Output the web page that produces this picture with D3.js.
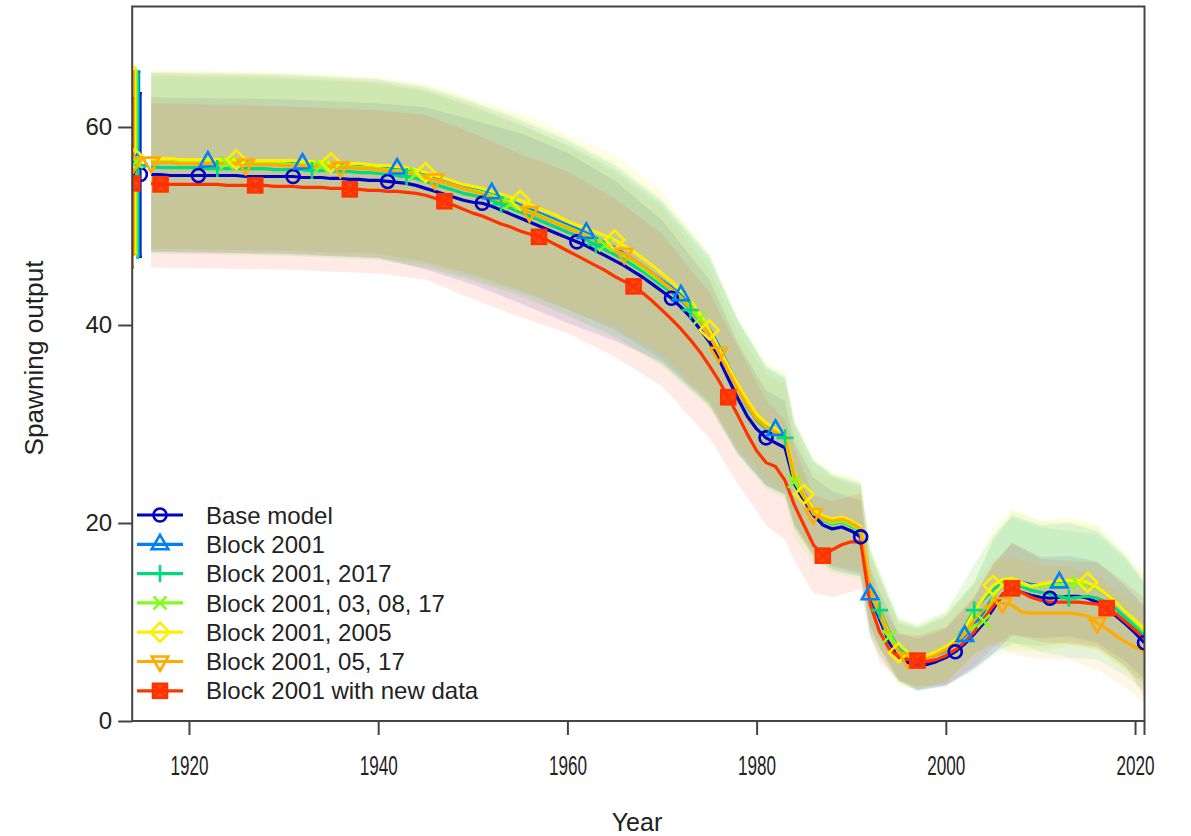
<!DOCTYPE html>
<html><head><meta charset="utf-8">
<script src="https://cdn.jsdelivr.net/npm/d3@7"></script>
<style>
body{margin:0;background:#fff}
svg{display:block}
text{font-family:"Liberation Sans",Arial,Helvetica,sans-serif;fill:#222}
</style>
</head><body>
<svg id="chart" width="1191" height="836"></svg>
<script>
// ---------------- DATA ----------------
const years = d3.range(1916, 2022); // annual time steps 1916..2021
const seriesNames = ["Base model","Block 2001","Block 2001, 2017","Block 2001, 03, 08, 17","Block 2001, 2005","Block 2001, 05, 17","Block 2001 with new data"];
const seriesColors = ["#0000C6","#0081F8","#02DA7D","#80FE1A","#FDEE02","#FFAB00","#FF3300"];
const seriesSymbols = ["circle","triangle","plus","cross","diamond","triangleDown","squareX"];
const xTickValues = [1920,1940,1960,1980,2000,2020];
const xExtraTick = [2021];
const yTickValues = [0,20,40,60];

const baseModel = [55.2,55.2,55.1,55.1,55.1,55.1,55.1,55.1,55.1,55.1, 55.0,55.0,55.0,55.0,55.0,55.0,54.9,54.9,54.9,54.8, 54.8,54.7,54.7,54.6,54.6,54.5,54.4,54.3,54.1,53.8, 53.5,53.2,52.9,52.6,52.4,52.3,52.0,51.6,51.2,50.8, 50.4,50.0,49.6,49.2,48.8,48.4,48.0,47.5,47.0,46.5, 46.0,45.4,44.8,44.1,43.4,42.7,41.8,40.8,39.6,38.3, 36.6,34.6,32.6,30.8,29.5,28.6,28.1,27.6,24.0,22.3, 20.8,19.8,19.4,19.6,19.2,18.6,12.6,10.3,8.0,6.5, 5.9,5.7,5.7,6.0,6.4,7.0,7.8,8.8,9.9,11.3, 12.8,13.3,13.0,12.7,12.5,12.4,12.5,12.6,12.6,12.4, 12.0,11.3,10.6,9.8,8.9,7.9];
const block2001 = [56.6,56.6,56.5,56.5,56.5,56.5,56.5,56.5,56.5,56.5, 56.4,56.4,56.4,56.4,56.4,56.4,56.3,56.3,56.3,56.2, 56.2,56.1,56.1,56.0,56.0,55.9,55.8,55.7,55.5,55.2, 54.9,54.6,54.3,54.0,53.8,53.6,53.3,52.9,52.5,52.1, 51.7,51.3,50.9,50.5,50.1,49.7,49.3,48.8,48.3,47.8, 47.2,46.6,45.9,45.2,44.5,43.8,43.0,42.0,40.9,39.6, 37.9,35.9,33.9,32.1,30.7,29.8,29.4,28.8,24.9,23.0, 21.5,20.5,20.1,20.3,19.9,19.3,12.8,10.6,8.4,7.0, 6.4,6.2,6.3,6.7,7.1,7.8,8.6,9.7,11.0,12.5, 13.8,14.3,14.0,13.8,13.7,13.7,14.0,14.0,14.0,13.8, 13.4,12.8,12.0,11.0,10.0,8.9];
const block2001_2017 = [56.0,55.9,55.9,55.9,55.9,55.9,55.8,55.8,55.8,55.8, 55.8,55.8,55.8,55.7,55.7,55.7,55.7,55.6,55.6,55.6, 55.5,55.5,55.4,55.4,55.3,55.2,55.1,55.0,54.8,54.5, 54.2,53.9,53.6,53.3,53.1,52.9,52.6,52.2,51.8,51.4, 51.0,50.6,50.2,49.8,49.4,49.0,48.6,48.1,47.6,47.1, 46.6,46.0,45.4,44.7,44.0,43.3,42.5,41.5,40.4,39.1, 37.5,35.6,33.6,31.8,30.4,29.5,29.0,28.6,24.6,22.8, 21.3,20.3,19.9,20.1,19.7,19.1,13.2,11.2,9.0,7.3, 6.6,6.4,6.5,6.9,7.4,8.2,9.5,11.2,12.3,13.3, 14.0,14.1,13.6,13.2,13.0,12.8,12.6,12.4,12.5,12.6, 12.4,12.0,11.3,10.4,9.5,8.5];
const block2001_03_08_17 = [56.5,56.5,56.5,56.4,56.4,56.4,56.4,56.4,56.4,56.4, 56.3,56.3,56.3,56.3,56.3,56.2,56.2,56.2,56.1,56.1, 56.0,56.0,55.9,55.9,55.8,55.7,55.6,55.5,55.3,55.0, 54.7,54.4,54.1,53.8,53.6,53.4,53.1,52.7,52.3,51.9, 51.5,51.1,50.7,50.3,49.9,49.5,49.1,48.6,48.1,47.6, 47.0,46.4,45.7,45.0,44.3,43.6,42.8,41.8,40.7,39.4, 37.7,35.8,33.8,32.0,30.6,29.7,29.2,28.7,24.2,22.6, 21.2,20.4,20.0,20.2,19.8,19.2,13.0,10.8,8.5,7.0, 6.5,6.3,6.4,6.8,7.2,7.9,8.8,9.6,10.1,12.5, 13.8,14.2,13.8,13.6,13.6,13.7,13.8,13.9,13.9,13.8, 13.4,12.8,12.0,11.0,10.0,9.0];
const block2001_2005 = [56.8,56.8,56.8,56.7,56.7,56.7,56.7,56.7,56.7,56.7, 56.7,56.6,56.6,56.6,56.6,56.6,56.5,56.5,56.5,56.4, 56.4,56.3,56.3,56.2,56.1,56.1,56.0,55.9,55.7,55.4, 55.1,54.8,54.5,54.2,54.0,53.8,53.5,53.2,52.9,52.6, 52.2,51.8,51.4,51.0,50.5,50.1,49.8,49.4,49.0,48.6, 48.0,47.4,46.7,46.0,45.2,44.4,43.5,42.5,41.1,39.5, 37.6,35.8,34.0,32.4,31.0,30.1,29.5,29.0,25.0,22.9, 21.5,20.7,20.4,20.6,20.2,19.6,13.5,11.0,8.8,6.9, 6.6,6.5,6.6,7.0,7.5,8.2,9.3,11.0,12.5,13.7, 14.3,14.4,14.0,13.6,13.8,14.0,14.2,14.2,14.2,14.0, 13.5,12.8,12.0,11.0,10.2,9.3];
const block2001_05_17 = [56.4,56.4,56.4,56.3,56.3,56.3,56.3,56.3,56.3,56.3, 56.2,56.2,56.2,56.2,56.1,56.1,56.1,56.0,56.0,56.0, 55.9,55.9,55.8,55.8,55.7,55.6,55.5,55.4,55.2,54.9, 54.7,54.4,54.1,53.8,53.5,53.2,52.9,52.5,52.1,51.8, 51.4,51.0,50.6,50.2,49.8,49.4,49.0,48.5,48.0,47.5, 47.2,46.6,45.9,45.2,44.4,43.6,42.7,41.7,40.5,39.0, 37.2,35.3,33.5,31.9,30.5,29.7,29.2,28.7,24.7,22.7, 20.9,20.5,20.2,20.4,20.0,19.4,13.3,10.9,8.6,7.0, 6.3,6.2,6.3,6.7,7.2,7.9,8.9,10.2,11.3,12.0, 11.9,11.7,11.0,10.9,10.9,10.9,10.9,10.9,10.8,10.6, 9.9,9.3,8.6,8.0,7.5,7.0];
const block2001_newData = [54.3,54.2,54.2,54.2,54.2,54.2,54.2,54.2,54.1,54.1, 54.1,54.1,54.1,54.0,54.0,54.0,53.9,53.9,53.9,53.8, 53.8,53.7,53.7,53.6,53.6,53.5,53.5,53.4,53.3,53.1, 52.8,52.5,52.1,51.7,51.3,51.0,50.6,50.2,49.9,49.5, 49.2,48.9,48.5,48.0,47.5,47.0,46.5,46.0,45.5,44.9, 44.4,43.9,43.2,42.4,41.5,40.6,39.6,38.5,37.3,35.9, 34.4,32.7,30.9,29.0,27.3,26.1,25.7,24.3,21.8,19.8, 17.8,16.7,17.3,17.8,18.1,18.1,11.8,9.0,7.3,6.5, 6.2,6.1,6.0,6.2,6.6,7.2,8.0,9.0,10.3,11.6, 12.8,13.4,13.0,12.5,12.2,12.0,12.0,12.0,12.0,11.9, 11.8,11.4,10.8,10.0,9.2,8.3];

// 95% interval bounds at selected years
const ciYears = [1916,1930,1940,1945,1950,1955,1960,1965,1970,1975,1978,1981,1983,1984,1986,1988,1991,1992,1993,1995,1997,2000,2003,2005,2007,2010,2013,2016,2019,2021];
const baseUpper = [63.0,62.8,62.4,62.0,60.7,59.4,57.4,54.6,50.6,44.6,38.2,33.4,32.3,28.2,24.6,23.2,22.3,15.6,13.1,8.9,8.3,9.3,12.4,15.8,18.0,16.6,16.7,16.1,13.6,11.6];
const baseLower = [47.4,47.2,46.8,45.6,44.1,42.2,40.2,38.4,36.2,32.0,27.0,23.8,22.9,19.8,17.0,15.6,14.9,9.6,7.5,4.1,3.1,3.5,5.2,6.8,8.6,8.4,8.5,7.9,6.0,4.2];
const b01Upper = [65.5,65.3,64.8,64.0,62.5,60.7,58.6,56.1,52.5,47.0,40.5,35.8,34.7,30.2,26.3,24.9,24.0,17.0,14.5,10.0,9.4,10.6,14.0,18.2,20.8,19.8,20.0,19.2,16.6,14.0];
const b01Lower = [47.7,47.5,47.2,46.4,45.1,43.5,41.6,39.5,36.5,32.2,27.3,23.8,22.9,19.6,16.7,15.3,14.6,8.6,6.7,4.0,3.0,3.6,5.4,6.8,7.8,7.6,8.0,7.6,5.4,3.8];
const b0117Upper = [65.2,64.9,64.4,63.6,62.0,60.2,58.2,55.7,52.2,46.6,40.4,35.6,34.6,30.0,26.2,24.7,23.8,17.4,15.1,10.4,9.7,11.0,15.8,18.8,20.6,19.6,19.2,18.9,16.4,13.8];
const b0117Lower = [47.2,47.0,46.6,45.8,44.5,43.0,41.0,38.8,36.0,31.8,27.0,23.6,22.7,19.4,16.6,15.2,14.6,9.0,7.4,4.3,3.2,3.9,6.8,8.0,8.0,7.0,6.4,6.2,4.6,3.0];
const b01030817Upper = [65.6,65.4,64.9,64.2,62.7,61.0,58.9,56.4,52.8,47.2,40.7,36.0,35.0,30.0,26.4,25.0,24.2,17.4,14.9,10.3,9.5,10.8,14.0,18.5,21.3,20.2,20.2,19.6,16.8,14.6];
const b01030817Lower = [47.4,47.2,46.7,45.8,44.5,42.8,40.9,38.8,35.8,31.6,26.9,23.4,22.4,18.4,16.0,15.0,14.2,8.6,6.7,3.7,3.1,3.6,5.2,6.5,7.1,7.0,7.6,7.2,5.2,3.4];
const b0105Upper = [65.8,65.6,65.0,64.4,62.9,61.5,59.3,57.2,53.5,47.2,40.7,36.2,35.2,30.6,26.6,25.3,24.4,17.6,15.0,10.2,9.8,11.1,15.4,19.5,21.4,20.2,20.6,19.8,16.9,14.8];
const b0105Lower = [47.8,47.6,47.2,46.4,45.1,43.7,41.7,40.0,36.9,31.8,27.3,24.0,22.8,19.4,16.4,15.5,14.8,9.4,7.0,3.6,3.2,3.9,6.6,7.9,7.4,7.4,7.8,7.2,5.1,3.8];
const b010517Upper = [65.4,65.1,64.6,63.7,62.2,60.3,58.0,55.4,51.8,45.6,39.3,35.0,34.0,29.3,25.2,24.6,23.6,16.8,14.4,9.9,9.2,10.5,13.7,16.3,16.6,15.6,15.6,14.6,12.6,11.6];
const b010517Lower = [47.4,47.1,46.8,46.1,44.8,43.3,41.6,39.6,37.0,32.4,27.7,24.4,23.4,20.1,16.6,15.8,15.2,9.8,7.4,4.1,3.2,3.9,6.7,7.7,6.8,6.2,6.2,5.2,3.4,1.8];
const newDataUpper = [62.4,62.1,61.7,61.2,59.4,57.3,55.5,52.8,49.2,43.3,37.8,32.4,30.4,27.6,22.8,22.2,23.0,15.2,12.0,8.8,8.6,9.5,12.6,15.8,18.0,16.4,16.2,16.0,14.0,12.4];
const newDataLower = [45.8,45.6,45.2,44.6,42.6,40.8,39.2,36.8,33.8,28.6,24.0,19.8,18.3,16.2,12.9,12.5,13.3,8.5,6.0,4.1,3.5,3.6,5.5,7.4,8.8,8.0,7.8,7.4,5.6,2.4];

// unfished (virgin) spawning output with 95% interval
const virginValue = [55.2,56.6,56.0,56.5,56.8,56.4,54.3];
const virginLower = [46.9,47.0,46.8,47.2,47.4,47.1,45.8];
const virginUpper = [63.4,65.6,65.3,65.7,66.0,65.6,62.9];

const seriesValues = [baseModel,block2001,block2001_2017,block2001_03_08_17,block2001_2005,block2001_05_17,block2001_newData];
const seriesUpper = [baseUpper,b01Upper,b0117Upper,b01030817Upper,b0105Upper,b010517Upper,newDataUpper];
const seriesLower = [baseLower,b01Lower,b0117Lower,b01030817Lower,b0105Lower,b010517Lower,newDataLower];

// ---------------- CHART ----------------
const svg = d3.select("#chart");
const x = d3.scaleLinear().domain([1914, 2021]).range([132.2, 1144.5]);
const y = d3.scaleLinear().domain([0, 72.17]).range([721, 6.5]);

const series = seriesNames.map((name, i) => ({
  name, color: seriesColors[i], symbol: seriesSymbols[i],
  pts: years.map((yr, j) => ({yr, v: seriesValues[i][j]})),
  band: ciYears.map((yr, j) => ({yr, lo: seriesLower[i][j], hi: seriesUpper[i][j]})),
  virgin: {v: virginValue[i], lo: virginLower[i], hi: virginUpper[i]}
}));

svg.append("clipPath").attr("id","clip").append("rect")
  .attr("x", x(1914)).attr("y", y(72.17)).attr("width", x(2021)-x(1914)).attr("height", y(0)-y(72.17));
const plot = svg.append("g").attr("clip-path","url(#clip)");

// bands
const area = d3.area().x(d => x(d.yr)).y0(d => y(d.lo)).y1(d => y(d.hi));
series.forEach(s => {
  plot.append("path").attr("d", area(s.band)).attr("fill", s.color).attr("fill-opacity", 0.1).attr("stroke","none");
});

// symbol drawing
function drawSymbol(g, type, cx, cy, color, sw) {
  const sym = g.append("g").attr("transform", `translate(${cx},${cy})`)
    .attr("fill","none").attr("stroke", color).attr("stroke-width", sw);
  if (type === "circle") sym.append("circle").attr("r", 6.5);
  else if (type === "triangle") sym.append("path").attr("d","M0,-9.5L8.3,5L-8.3,5Z");
  else if (type === "plus") sym.append("path").attr("d","M-8.5,0H8.5M0,-8.5V8.5");
  else if (type === "cross") sym.append("path").attr("d","M-6.5,-6.5L6.5,6.5M-6.5,6.5L6.5,-6.5");
  else if (type === "diamond") sym.append("path").attr("d","M0,-9.5L9.5,0L0,9.5L-9.5,0Z");
  else if (type === "triangleDown") sym.append("path").attr("d","M0,9.5L8.3,-5L-8.3,-5Z");
  else if (type === "squareX") {
    sym.append("rect").attr("x",-7).attr("y",-7).attr("width",14).attr("height",14).attr("fill", color).attr("fill-opacity",0.85);
    sym.append("path").attr("d","M-7,-7L7,7M-7,7L7,-7");
  }
}

// virgin error bars
series.forEach((s, i) => {
  const vx = x(1915) - 1.3 - i * 1.35;
  const g = plot.append("g");
  g.append("line").attr("x1", vx).attr("x2", vx).attr("y1", y(s.virgin.lo)).attr("y2", y(s.virgin.hi))
    .attr("stroke", s.color).attr("stroke-width", 2.5);
  [s.virgin.lo, s.virgin.hi].forEach(v => g.append("line").attr("x1", vx-1.5).attr("x2", vx+1.5)
    .attr("y1", y(v)).attr("y2", y(v)).attr("stroke", s.color).attr("stroke-width", 2.5));
});

// lines
const line = d3.line().x(d => x(d.yr)).y(d => y(d.v));
series.forEach(s => {
  plot.append("path").attr("d", line(s.pts)).attr("fill","none").attr("stroke", s.color)
    .attr("stroke-width", 3.2).attr("stroke-linejoin","round");
});

// markers (every 10 years, staggered by one year per model)
series.forEach((s, i) => {
  const g = plot.append("g");
  s.pts.filter(d => ((d.yr - 1921 - i) % 10 + 10) % 10 === 0)
    .forEach(d => drawSymbol(g, s.symbol, x(d.yr), y(d.v), s.color, 2.6));
  drawSymbol(g, s.symbol, x(1915) - 1.3 - i * 1.35, y(s.virgin.v), s.color, 2.6);
});

// box
svg.append("rect").attr("x", x(1914)).attr("y", y(72.17)).attr("width", x(2021)-x(1914)).attr("height", y(0)-y(72.17))
  .attr("fill","none").attr("stroke","#444").attr("stroke-width",2);

// axes
const xAxis = svg.append("g").attr("transform", `translate(0,${y(0)})`)
  .call(d3.axisBottom(x).tickValues(xTickValues).tickFormat(d3.format("d")).tickSize(14).tickPadding(20));
xAxis.select(".domain").remove();
xAxis.selectAll(".tick line").attr("stroke","#444").attr("stroke-width",2);
xAxis.selectAll(".tick text").style("font-size","28px").style("fill","#222")
  .attr("textLength", 38).attr("lengthAdjust","spacingAndGlyphs");
xAxis.append("line").attr("x1", x(xExtraTick[0])).attr("x2", x(xExtraTick[0])).attr("y1",0).attr("y2",14)
  .attr("stroke","#444").attr("stroke-width",2);

const yAxis = svg.append("g").attr("transform", `translate(${x(1914)},0)`)
  .call(d3.axisLeft(y).tickValues(yTickValues).tickSize(14).tickPadding(6));
yAxis.select(".domain").remove();
yAxis.selectAll(".tick line").attr("stroke","#444").attr("stroke-width",2);
yAxis.selectAll(".tick text").style("font-size","24px").style("fill","#222");

svg.append("text").attr("x", 637).attr("y", 831).attr("text-anchor","middle").style("font-size","25px").text("Year");
svg.append("text").attr("transform","translate(43,358) rotate(-90)").attr("text-anchor","middle")
  .style("font-size","25px").attr("textLength",195).attr("lengthAdjust","spacingAndGlyphs").text("Spawning output");

// legend
const leg = svg.append("g");
series.forEach((s, i) => {
  const ly = 515 + i * 29.3;
  leg.append("line").attr("x1",137).attr("x2",183).attr("y1",ly).attr("y2",ly).attr("stroke", s.color).attr("stroke-width",3.2);
  drawSymbol(leg, s.symbol, 160, ly, s.color, 2.6);
  leg.append("text").attr("x", 206).attr("y", ly).attr("dy","0.36em").style("font-size","24px").text(s.name);
});
</script>
</body></html>
